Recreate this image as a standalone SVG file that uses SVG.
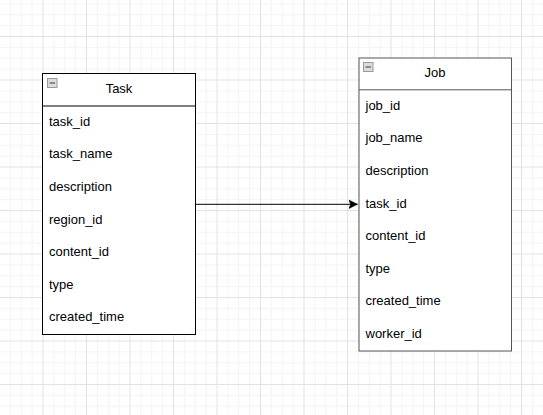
<svg xmlns="http://www.w3.org/2000/svg" width="543" height="415" viewBox="0 0 543 415">
<style>
.box{fill:#fff;stroke-width:1}
.title{font-family:"Liberation Sans",Arial,sans-serif;font-size:13px;fill:#000;text-anchor:middle}
.field{font-family:"Liberation Sans",Arial,sans-serif;font-size:13px;fill:#000}
.icon{fill:#dcdcdc;stroke:#9a9a9a;stroke-width:1}
.iconbar{stroke:#707070;stroke-width:1.5}
.conn{fill:none;stroke:#000;stroke-width:1}
</style>
<defs>
<pattern id="grid" patternUnits="userSpaceOnUse" x="-1" y="-7.5" width="43.5" height="43.5">
<rect width="43.5" height="43.5" fill="#fff"/>
<rect x="10.875" y="0" width="1" height="43.5" fill="#f5f5f5"/>
<rect x="21.75" y="0" width="1" height="43.5" fill="#f5f5f5"/>
<rect x="32.625" y="0" width="1" height="43.5" fill="#f5f5f5"/>
<rect x="0" y="10.875" width="43.5" height="1" fill="#f5f5f5"/>
<rect x="0" y="21.75" width="43.5" height="1" fill="#f5f5f5"/>
<rect x="0" y="32.625" width="43.5" height="1" fill="#f5f5f5"/>
<rect x="0" y="0" width="1" height="43.5" fill="#e3e3e3"/>
<rect x="0" y="0" width="43.5" height="1" fill="#e3e3e3"/>
</pattern>
<marker id="arrow" markerUnits="userSpaceOnUse" markerWidth="12" markerHeight="12" refX="9" refY="5" orient="auto" viewBox="0 0 12 10">
<path d="M9,5 L0,9.5 L2.3,5 L0,0.5 Z" fill="#000" stroke="#000" stroke-width="0.5"/>
</marker>
</defs>
<rect width="543" height="415" fill="url(#grid)"/>
<g id="connectors">
<path class="conn" d="M196,204.3 L357.5,204.3" marker-end="url(#arrow)"/>
</g>
<g id="task">
<rect class="box" x="42.5" y="73.5" width="153" height="261" stroke="#000"/>
<line x1="42.5" y1="106" x2="195.5" y2="106" stroke="#000"/>
<rect class="icon" x="47.5" y="78.5" width="9.5" height="9"/>
<line class="iconbar" x1="49.5" y1="83" x2="55" y2="83"/>
<text class="title" x="119" y="93">Task</text>
<text class="field" x="49" y="125.8">task_id</text>
<text class="field" x="49" y="158.4">task_name</text>
<text class="field" x="49" y="191">description</text>
<text class="field" x="49" y="223.6">region_id</text>
<text class="field" x="49" y="256.2">content_id</text>
<text class="field" x="49" y="288.8">type</text>
<text class="field" x="49" y="321.4">created_time</text>
</g>
<g id="job">
<rect class="box" x="359" y="58" width="152.5" height="293" stroke="#555"/>
<line x1="359" y1="89.8" x2="511.5" y2="89.8" stroke="#555"/>
<rect class="icon" x="363.5" y="62.5" width="9.5" height="9"/>
<line class="iconbar" x1="365.5" y1="67" x2="371" y2="67"/>
<text class="title" x="435" y="77">Job</text>
<text class="field" x="365.5" y="109.8">job_id</text>
<text class="field" x="365.5" y="142.4">job_name</text>
<text class="field" x="365.5" y="175">description</text>
<text class="field" x="365.5" y="207.6">task_id</text>
<text class="field" x="365.5" y="240.2">content_id</text>
<text class="field" x="365.5" y="272.8">type</text>
<text class="field" x="365.5" y="305.4">created_time</text>
<text class="field" x="365.5" y="338">worker_id</text>
</g>
</svg>
